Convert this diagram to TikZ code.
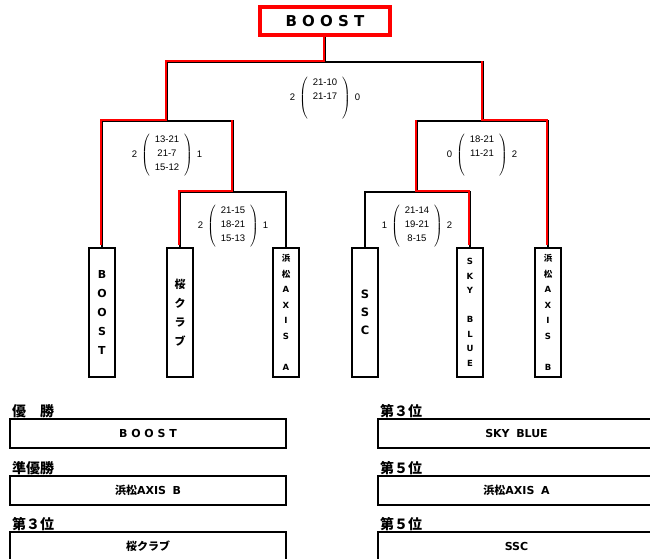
\documentclass[tikz,border=0pt]{standalone}
\usepackage{fontspec}
\setmainfont{DejaVu Sans}
\newfontfamily\jpfont{Noto Sans CJK JP}
\newfontfamily\scorefont{Liberation Sans}
\usetikzlibrary{positioning}

\newcommand{\scorebox}[3]{#1\hspace{4pt}$\left(\vcenter{\hbox{\rule[-22pt]{0pt}{44pt}\begin{tabular}{@{\hspace{5pt}}c@{\hspace{5pt}}}#2\end{tabular}}}\right)$\hspace{4pt}#3}

\begin{document}
\begin{tikzpicture}[x=1pt, y=-1pt,
    line/.style={black, line width=2pt},
    win/.style={red, line width=2pt, transform canvas={xshift=-1.5pt, yshift=1.5pt}},
    team/.style={draw, line width=2.5pt, minimum width=26pt, minimum height=129pt, inner sep=0pt, align=center},
    score/.style={inner sep=0pt, font=\scorefont\fontsize{9.5}{14}\selectfont},
    rank/.style={anchor=south west, inner sep=0pt, font=\jpfont\bfseries\fontsize{14}{14}\selectfont},
    result/.style={draw, line width=2pt, minimum height=29pt, inner sep=0pt, font=\bfseries\fontsize{11}{11}\selectfont}]
    \useasboundingbox (0,0) rectangle (650,558);

    % champion on top
    \node[draw=red, line width=3.5pt, minimum width=130pt, minimum height=28pt, font=\bfseries\fontsize{15}{15}\selectfont] (champ) at (325,21) {B O O S T};

    % teams
    \node[team, font=\bfseries\fontsize{11}{19}\selectfont] (boost) at (102,312.5) {B\\O\\O\\S\\T};
    \node[team, font=\jpfont\bfseries\fontsize{11}{19}\selectfont] (sakura) at (180,312.5) {桜\\ク\\ラ\\ブ};
    \node[team, font=\bfseries\fontsize{8.5}{15.5}\selectfont] (axisA) at (286,312.5) {{\jpfont 浜}\\{\jpfont 松}\\A\\X\\I\\S\\[15.5pt]A};
    \node[team, font=\bfseries\fontsize{11.5}{18}\selectfont] (ssc) at (365,312.5) {S\\S\\C};
    \node[team, font=\bfseries\fontsize{8.5}{14.5}\selectfont] (sky) at (470,312.5) {S\\K\\Y\\[14.5pt]B\\L\\U\\E};
    \node[team, font=\bfseries\fontsize{8.5}{15.5}\selectfont] (axisB) at (548,312.5) {{\jpfont 浜}\\{\jpfont 松}\\A\\X\\I\\S\\[15.5pt]B};

    % bracket joints
    \coordinate (qfL) at (233,192);
    \coordinate (qfR) at (417,192);
    \coordinate (sfL) at (167,121);
    \coordinate (sfR) at (483,121);
    \coordinate (fin) at (325,62);

    \draw[line] (sakura.north) |- (qfL) -| (axisA.north);
    \draw[line] (ssc.north) |- (qfR) -| (sky.north);
    \draw[line] (boost.north) |- (sfL) -| (qfL);
    \draw[line] (qfR) |- (sfR) -| (axisB.north);
    \draw[line] (sfL) |- (fin) -| (sfR);
    \draw[line] (fin) -- (champ.south);

    % winners
    \draw[win] (champ.south) -- (fin) -| (sfL) -| (boost.north);
    \draw[win] (sakura.north) |- (qfL) -- (qfL |- sfL);
    \draw[win] (sky.north) |- (qfR) -- (qfR |- sfR);
    \draw[win] (axisB.north) |- (sfR) -- (sfR |- fin);

    % scores
    \node[score] (scFin) at (325,98) {\scorebox{2}{21-10\\21-17\\\mbox{}}{0}};
    \node[score] (scSfL) at (167,155) {\scorebox{2}{13-21\\21-7\\15-12}{1}};
    \node[score] (scQfL) at (233,226) {\scorebox{2}{21-15\\18-21\\15-13}{1}};
    \node[score] (scSfR) at (482,155) {\scorebox{0}{18-21\\11-21\\\mbox{}}{2}};
    \node[score] (scQfR) at (417,226) {\scorebox{1}{21-14\\19-21\\8-15}{2}};

    % final ranking
    \node[rank] (lb1) at (12,418) {優\hspace{1em}勝};
    \node[result, minimum width=276pt] (res1) at (148,433.5) {B O O S T};
    \node[rank] (lb2) at (12,475) {準優勝};
    \node[result, minimum width=276pt] (res2) at (148,490) {{\jpfont 浜松}AXIS\hspace{0.6em}B};
    \node[rank] (lb3) at (12,531) {第３位};
    \node[result, minimum width=276pt] (res3) at (148,546.5) {{\jpfont 桜クラブ}};
    \node[rank] (lb4) at (380,418) {第３位};
    \node[result, minimum width=277pt] (res4) at (516.5,433.5) {SKY\hspace{0.6em}BLUE};
    \node[rank] (lb5) at (380,475) {第５位};
    \node[result, minimum width=277pt] (res5) at (516.5,490) {{\jpfont 浜松}AXIS\hspace{0.6em}A};
    \node[rank] (lb6) at (380,531) {第５位};
    \node[result, minimum width=277pt] (res6) at (516.5,546.5) {SSC};
\end{tikzpicture}
\end{document}
